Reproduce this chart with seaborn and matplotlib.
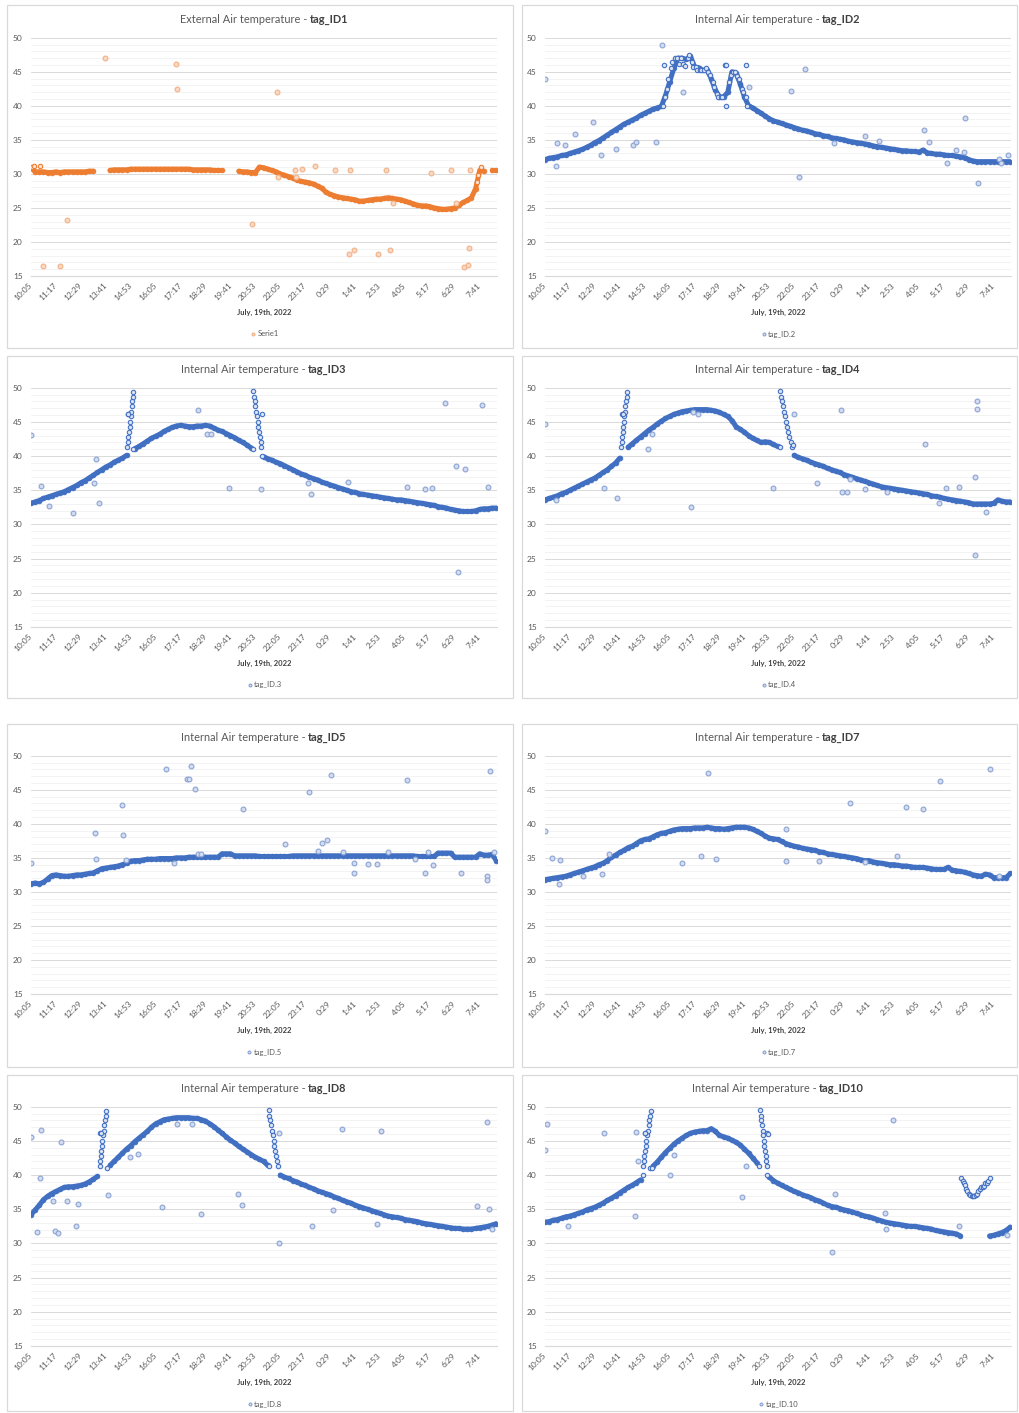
import numpy as np
import pandas as pd
import matplotlib
matplotlib.use("Agg")
import matplotlib.pyplot as plt
from matplotlib.patches import Rectangle
import seaborn as sns

nan = float("nan")

# ---------------------------------------------------------------- time axis
# one reading every 12 minutes, minute 0 = 10:05 on July 19th
STEP_MIN = 12
TICK_LABELS = ["10:05", "11:17", "12:29", "13:41", "14:53", "16:05", "17:17",
               "18:29", "19:41", "20:53", "22:05", "23:17", "0:29", "1:41",
               "2:53", "4:05", "5:17", "6:29", "7:41"]
TICK_MINUTES = [0, 72, 144, 216, 288, 360, 432, 504, 576, 648, 720, 792,
                864, 936, 1008, 1080, 1152, 1224, 1296]

# Each sensor: regular readings (TEMP), dense bursts such as probe spikes
# (DETAIL, as (minute, degC)) and isolated stray readings (STRAY).

# ---------------------------------------------------------------- tag_ID1 (external)
ID1_TEMP = [
    30.9, 30.3, 30.3, 30.3, 30.2, 30.2, 30.3, 30.2, 30.3, 30.3, 30.3, 30.3,
    30.3, 30.3, 30.4, 30.4, nan, nan, nan, 30.5, 30.6, 30.6, 30.6, 30.6,
    30.7, 30.7, 30.7, 30.7, 30.7, 30.7, 30.7, 30.7, 30.7, 30.7, 30.7, 30.7,
    30.7, 30.7, 30.7, 30.6, 30.6, 30.6, 30.6, 30.6, 30.5, 30.5, 30.5, nan,
    nan, nan, 30.4, 30.3, 30.3, 30.2, 30.2, 31.0, 30.9, 30.7, 30.5, 30.3,
    30.0, 29.8, 29.6, 29.4, 29.1, 28.9, 28.8, 28.7, 28.5, 28.2, 27.9, 27.3,
    27.0, 26.8, 26.6, 26.5, 26.4, 26.3, 26.2, 26.0, 26.0, 26.1, 26.2, 26.3,
    26.3, 26.4, 26.5, 26.4, 26.3, 26.2, 26.0, 25.8, 25.6, 25.4, 25.3, 25.3,
    25.2, 25.0, 24.9, 24.8, 24.8, 24.9, 25.0, 25.4, 25.8, 26.1, 26.5, 27.8,
    30.5, 30.4, nan, 30.5, 30.5,
]
ID1_DETAIL = [(4, 31.0), (8, 31.1), (27, 31.1), (1288, 28.8), (1291, 29.8), (1300, 31.0)]
ID1_STRAY = [
    (35, 16.5), (83, 16.5), (104, 23.2), (215, 47.0), (419, 46.1), (423, 42.5),
    (639, 22.7), (711, 42.0), (714, 29.6), (763, 30.5), (765, 29.6), (782, 30.7),
    (819, 31.1), (878, 30.5), (918, 18.3), (920, 30.5), (934, 18.8), (1003, 18.3),
    (1025, 30.6), (1037, 18.8), (1046, 25.7), (1155, 30.2), (1213, 30.6), (1229, 25.7),
    (1251, 16.3), (1262, 16.6), (1266, 19.1), (1267, 30.6),
]

# ---------------------------------------------------------------- tag_ID2
ID2_TEMP = [
    32.1, 32.3, 32.4, 32.5, 32.7, 32.8, 33.0, 33.2, 33.4, 33.6, 33.9, 34.2,
    34.6, 34.9, 35.3, 35.7, 36.1, 36.5, 36.9, 37.3, 37.6, 37.9, 38.2, 38.6,
    38.9, 39.2, 39.5, 39.7, 39.9, 41.5, 43.5, 45.5, 47.0, 47.0, 46.8, 47.3,
    45.7, 45.6, 45.2, 45.3, 44.0, 42.3, 41.3, 41.3, 42.0, 45.0, 44.8, 43.2,
    41.3, 40.0, 39.7, 39.3, 38.9, 38.5, 38.1, 37.8, 37.6, 37.4, 37.2, 37.0,
    36.8, 36.6, 36.4, 36.3, 36.1, 35.9, 35.8, 35.6, 35.5, 35.3, 35.2, 35.1,
    35.0, 34.8, 34.7, 34.6, 34.5, 34.4, 34.3, 34.1, 34.0, 33.9, 33.8, 33.7,
    33.6, 33.5, 33.4, 33.4, 33.3, 33.3, 33.2, 33.5, 33.1, 33.0, 32.9, 32.9,
    32.8, 32.7, 32.7, 32.6, 32.5, 32.4, 32.1, 31.9, 31.8, 31.8, 31.8, 31.8,
    31.8, 31.8, 31.8, 31.8, 31.8,
]
ID2_DETAIL = [
    (342, 40.0), (344, 46.0), (346, 41.3), (352, 42.5), (356, 44.0), (364, 45.5),
    (368, 46.5), (376, 47.0), (380, 47.0), (388, 46.2), (392, 47.0), (400, 46.2),
    (404, 45.8), (412, 47.0), (416, 47.5), (424, 46.5), (428, 45.7), (436, 45.7),
    (440, 45.2), (448, 45.2), (452, 45.2), (460, 45.2), (464, 45.5), (472, 45.0),
    (476, 44.5), (484, 43.5), (488, 42.8), (496, 41.8), (500, 41.3), (508, 41.3),
    (512, 41.3), (519, 46.0), (522, 46.0), (524, 40.0), (532, 43.5), (536, 44.5),
    (544, 45.0), (548, 45.0), (556, 44.4), (560, 44.0), (568, 42.5), (572, 42.0),
    (580, 41.3), (582, 46.0), (584, 40.0),
]
ID2_STRAY = [
    (0, 43.9), (31, 31.2), (34, 34.5), (58, 34.2), (87, 35.9), (138, 37.6),
    (163, 32.7), (204, 33.7), (253, 34.2), (263, 34.7), (321, 34.7), (337, 48.9),
    (400, 42.0), (589, 42.8), (710, 42.1), (733, 29.6), (750, 45.4), (835, 34.5),
    (923, 35.6), (966, 34.9), (1096, 36.5), (1110, 34.7), (1161, 31.6), (1186, 33.5),
    (1209, 33.2), (1212, 38.2), (1252, 28.6), (1310, 32.2), (1316, 31.6), (1337, 32.8),
]

# ---------------------------------------------------------------- tag_ID3
ID3_TEMP = [
    33.1, 33.3, 33.5, 33.8, 34.0, 34.2, 34.4, 34.6, 34.8, 35.1, 35.4, 35.7,
    36.1, 36.4, 36.8, 37.2, 37.6, 38.0, 38.4, 38.7, 39.1, 39.4, 39.7, 40.1,
    nan, 41.1, 41.4, 41.8, 42.2, 42.6, 42.9, 43.2, 43.6, 43.9, 44.2, 44.4,
    44.5, 44.4, 44.3, 44.3, 44.4, 44.4, 44.5, 44.4, 44.1, 43.8, 43.6, 43.3,
    43.0, 42.7, 42.3, 42.0, 41.6, 41.2, nan, nan, 39.9, 39.6, 39.4, 39.1,
    38.9, 38.6, 38.3, 38.0, 37.7, 37.4, 37.2, 36.9, 36.7, 36.5, 36.2, 36.0,
    35.8, 35.6, 35.4, 35.2, 35.0, 34.8, 34.7, 34.5, 34.4, 34.3, 34.2, 34.1,
    34.0, 33.9, 33.8, 33.7, 33.6, 33.6, 33.5, 33.4, 33.3, 33.2, 33.1, 33.0,
    32.9, 32.8, 32.6, 32.5, 32.4, 32.2, 32.1, 32.0, 31.9, 31.9, 31.9, 32.0,
    32.2, 32.3, 32.3, 32.4, 32.4,
]
ID3_DETAIL = [
    (278, 41.3), (280, 42.0), (281, 42.8), (283, 43.5), (285, 44.3), (286, 45.0),
    (288, 45.8), (289, 46.5), (291, 47.3), (292, 48.0), (294, 48.7), (296, 49.4),
    (279, 46.1), (281, 46.1), (296, 41.0),
    (642, 49.5), (644, 48.7), (646, 48.0), (648, 47.3), (650, 46.5), (652, 45.8),
    (655, 45.0), (657, 44.3), (659, 43.5), (661, 42.8), (663, 42.0), (665, 41.3),
    (667, 46.1), (642, 41.0), (668, 40.0),
]
ID3_STRAY = [
    (0, 43.1), (29, 35.6), (53, 32.7), (121, 31.7), (183, 36.0), (188, 39.6),
    (195, 33.2), (481, 46.7), (507, 43.2), (520, 43.2), (572, 35.3), (664, 35.2),
    (801, 36.0), (810, 34.5), (916, 36.2), (1086, 35.5), (1138, 35.2), (1159, 35.4),
    (1196, 47.8), (1227, 38.5), (1234, 23.0), (1253, 38.1), (1303, 47.4), (1321, 35.5),
]

# ---------------------------------------------------------------- tag_ID4
ID4_TEMP = [
    33.6, 33.8, 34.0, 34.2, 34.5, 34.7, 35.0, 35.3, 35.6, 35.9, 36.2, 36.5,
    36.8, 37.2, 37.6, 38.0, 38.5, 39.0, 39.7, nan, 41.3, 41.8, 42.3, 42.8,
    43.3, 43.8, 44.2, 44.7, 45.1, 45.5, 45.8, 46.1, 46.3, 46.5, 46.6, 46.7,
    46.8, 46.8, 46.8, 46.8, 46.7, 46.6, 46.4, 46.1, 45.8, 45.2, 44.3, 43.9,
    43.5, 43.0, 42.6, 42.3, 42.0, 42.1, 42.0, 41.7, 41.4, nan, nan, nan,
    40.1, 39.8, 39.6, 39.4, 39.1, 38.9, 38.7, 38.5, 38.2, 38.0, 37.8, 37.6,
    37.3, 37.1, 36.9, 36.7, 36.5, 36.3, 36.1, 35.9, 35.7, 35.5, 35.4, 35.3,
    35.2, 35.1, 35.0, 34.9, 34.8, 34.7, 34.6, 34.5, 34.4, 34.2, 34.1, 34.0,
    33.8, 33.7, 33.6, 33.5, 33.4, 33.3, 33.2, 33.0, 33.0, 33.0, 33.0, 33.0,
    33.1, 33.6, 33.4, 33.3, 33.3,
]
ID4_DETAIL = [
    (219, 41.3), (221, 42.0), (222, 42.8), (224, 43.5), (225, 44.3), (227, 45.0),
    (229, 45.8), (230, 46.5), (232, 47.3), (234, 48.0), (236, 48.7), (238, 49.4),
    (222, 46.1), (224, 46.1),
    (678, 49.5), (681, 48.7), (684, 48.0), (687, 47.3), (690, 46.5), (694, 45.8),
    (697, 45.0), (700, 44.3), (703, 43.5), (706, 42.8), (710, 42.0), (714, 41.3),
    (716, 41.6), (678, 41.3),
]
ID4_STRAY = [
    (0, 44.7), (32, 33.6), (170, 35.4), (208, 33.9), (298, 41.0), (308, 43.3),
    (423, 32.5), (428, 46.4), (442, 46.2), (659, 35.3), (719, 46.2), (785, 36.1),
    (856, 46.8), (858, 34.7), (872, 34.7), (880, 36.6), (923, 35.2), (988, 34.8),
    (1099, 41.8), (1137, 33.1), (1157, 35.3), (1197, 35.5), (1242, 37.0), (1242, 25.5),
    (1247, 48.0), (1248, 46.9), (1274, 31.8),
]

# ---------------------------------------------------------------- tag_ID5
ID5_TEMP = [
    31.2, 31.3, 31.2, 31.4, 31.9, 32.4, 32.5, 32.4, 32.3, 32.3, 32.4, 32.5,
    32.5, 32.6, 32.7, 32.8, 33.1, 33.4, 33.5, 33.6, 33.7, 33.8, 34.0, 34.2,
    34.5, 34.6, 34.6, 34.7, 34.8, 34.8, 34.8, 34.9, 34.9, 34.9, 34.9, 35.0,
    35.0, 35.0, 35.1, 35.1, 35.1, 35.1, 35.1, 35.1, 35.1, 35.1, 35.6, 35.6,
    35.6, 35.3, 35.3, 35.3, 35.3, 35.3, 35.3, 35.2, 35.2, 35.2, 35.2, 35.2,
    35.2, 35.2, 35.2, 35.3, 35.3, 35.3, 35.3, 35.3, 35.3, 35.3, 35.3, 35.3,
    35.3, 35.3, 35.3, 35.3, 35.3, 35.3, 35.3, 35.3, 35.3, 35.3, 35.3, 35.3,
    35.3, 35.3, 35.3, 35.3, 35.3, 35.3, 35.3, 35.3, 35.3, 35.2, 35.2, 35.2,
    35.2, 35.2, 35.7, 35.7, 35.7, 35.7, 35.1, 35.1, 35.1, 35.1, 35.1, 35.1,
    35.6, 35.4, 35.4, 35.5, 34.6,
]
ID5_DETAIL = []
ID5_STRAY = [
    (0, 34.3), (186, 38.7), (188, 34.8), (262, 42.8), (267, 38.4), (274, 34.7),
    (390, 48.0), (412, 34.3), (450, 46.6), (457, 46.6), (462, 48.5), (474, 45.1),
    (482, 35.5), (491, 35.5), (612, 42.1), (734, 37.0), (802, 44.7), (828, 36.0),
    (841, 37.2), (854, 37.6), (866, 47.2), (902, 35.8), (933, 34.2), (933, 32.7),
    (974, 34.1), (1000, 34.1), (1030, 35.8), (1086, 46.4), (1109, 34.8), (1139, 32.8),
    (1147, 35.9), (1162, 34.0), (1241, 32.7), (1317, 32.4), (1317, 31.7), (1327, 47.8),
    (1336, 35.8),
]

# ---------------------------------------------------------------- tag_ID7
ID7_TEMP = [
    31.8, 31.9, 32.0, 32.1, 32.2, 32.3, 32.5, 32.7, 32.9, 33.1, 33.3, 33.5,
    33.7, 34.0, 34.2, 34.6, 35.1, 35.4, 35.8, 36.1, 36.5, 36.7, 37.1, 37.5,
    37.7, 37.8, 38.1, 38.4, 38.6, 38.7, 38.9, 39.1, 39.2, 39.3, 39.3, 39.3,
    39.4, 39.4, 39.4, 39.5, 39.4, 39.3, 39.3, 39.2, 39.3, 39.4, 39.5, 39.5,
    39.5, 39.4, 39.2, 38.9, 38.6, 38.2, 37.9, 37.8, 37.7, 37.4, 37.1, 36.9,
    36.7, 36.6, 36.4, 36.3, 36.2, 36.1, 35.9, 35.8, 35.6, 35.5, 35.4, 35.3,
    35.2, 35.1, 35.0, 34.9, 34.7, 34.6, 34.6, 34.4, 34.3, 34.2, 34.1, 34.0,
    34.0, 33.9, 33.8, 33.8, 33.7, 33.6, 33.6, 33.6, 33.5, 33.4, 33.3, 33.3,
    33.3, 33.6, 33.2, 33.1, 33.0, 32.9, 32.7, 32.5, 32.4, 32.3, 32.6, 32.5,
    32.1, 32.1, 32.1, 32.1, 32.7,
]
ID7_DETAIL = []
ID7_STRAY = [
    (0, 39.0), (19, 35.0), (39, 31.2), (43, 34.7), (109, 32.4), (166, 32.6),
    (185, 35.6), (395, 34.3), (450, 35.3), (470, 47.4), (494, 34.9), (697, 39.2),
    (696, 34.5), (790, 34.5), (880, 43.0), (925, 34.4), (1018, 35.3), (1042, 42.5),
    (1091, 42.1), (1140, 46.3), (1284, 48.0), (1310, 32.4),
]

# ---------------------------------------------------------------- tag_ID8
ID8_TEMP = [
    34.2, 34.9, 35.6, 36.4, 36.9, 37.3, 37.6, 37.9, 38.2, 38.3, 38.3, 38.4,
    38.5, 38.7, 39.0, 39.4, 39.8, nan, nan, 41.4, 42.0, 42.6, 43.2, 43.8,
    44.3, 44.9, 45.4, 45.9, 46.4, 47.0, 47.5, 47.8, 48.1, 48.2, 48.3, 48.4,
    48.4, 48.4, 48.4, 48.3, 48.3, 48.1, 47.9, 47.5, 47.1, 46.6, 46.1, 45.6,
    45.1, 44.7, 44.2, 43.8, 43.4, 43.0, 42.6, 42.3, 42.0, 41.4, nan, nan,
    40.0, 39.7, 39.5, 39.2, 39.0, 38.7, 38.5, 38.2, 38.0, 37.7, 37.5, 37.3,
    37.1, 36.8, 36.6, 36.3, 36.1, 35.9, 35.6, 35.4, 35.2, 35.0, 34.8, 34.6,
    34.4, 34.2, 34.0, 33.9, 33.8, 33.7, 33.5, 33.4, 33.3, 33.2, 33.0, 32.9,
    32.8, 32.7, 32.6, 32.5, 32.4, 32.3, 32.2, 32.2, 32.1, 32.1, 32.1, 32.2,
    32.3, 32.4, 32.5, 32.7, 32.9,
]
ID8_DETAIL = [
    (198, 41.3), (200, 42.0), (201, 42.8), (203, 43.5), (205, 44.3), (206, 45.0),
    (208, 45.8), (210, 46.5), (212, 47.3), (214, 48.0), (216, 48.7), (218, 49.4),
    (200, 46.1), (203, 46.1), (219, 41.0),
    (686, 49.5), (688, 48.7), (691, 48.0), (693, 47.3), (696, 46.5), (698, 45.8),
    (701, 45.0), (703, 44.3), (706, 43.5), (708, 42.8), (711, 42.0), (713, 41.3),
    (686, 41.3),
]
ID8_STRAY = [
    (0, 45.6), (17, 31.7), (25, 39.5), (30, 46.6), (63, 36.2), (70, 31.8),
    (77, 31.6), (87, 44.8), (104, 36.2), (130, 32.6), (136, 35.7), (221, 37.1),
    (287, 42.6), (310, 43.1), (377, 35.4), (423, 47.5), (466, 47.4), (492, 34.3),
    (598, 37.3), (610, 35.6), (717, 30.0), (717, 46.1), (812, 32.5), (873, 34.9),
    (899, 46.8), (998, 32.8), (1011, 46.5), (1287, 35.5), (1317, 47.8), (1322, 35.1),
    (1332, 32.1),
]

# ---------------------------------------------------------------- tag_ID10
ID10_TEMP = [
    33.1, 33.2, 33.4, 33.5, 33.7, 33.9, 34.0, 34.2, 34.4, 34.6, 34.9, 35.1,
    35.3, 35.6, 35.9, 36.3, 36.6, 37.0, 37.4, 37.8, 38.2, 38.5, 38.9, 39.3,
    nan, nan, 41.3, 41.9, 42.6, 43.3, 43.9, 44.5, 45.0, 45.4, 45.8, 46.1,
    46.3, 46.4, 46.5, 46.5, 46.8, 46.4, 45.8, 45.6, 45.4, 45.1, 44.8, 44.4,
    43.8, 43.2, 42.5, 41.8, nan, nan, 39.7, 39.2, 38.8, 38.5, 38.2, 37.9,
    37.6, 37.4, 37.1, 36.9, 36.7, 36.4, 36.2, 35.9, 35.6, 35.4, 35.3, 35.1,
    34.9, 34.8, 34.6, 34.4, 34.2, 34.0, 33.9, 33.7, 33.5, 33.3, 33.1, 33.0,
    32.9, 32.8, 32.7, 32.6, 32.5, 32.5, 32.4, 32.3, 32.2, 32.1, 31.9, 31.8,
    31.7, 31.6, 31.5, 31.4, 31.1, nan, nan, nan, nan, nan, nan, 31.1,
    31.2, 31.4, 31.6, 31.9, 32.4,
]
ID10_DETAIL = [
    (283, 41.3), (285, 42.0), (287, 42.8), (289, 43.5), (291, 44.3), (293, 45.0),
    (295, 45.8), (297, 46.5), (299, 47.3), (301, 48.0), (303, 48.7), (305, 49.4),
    (288, 46.1), (290, 46.1), (282, 40.0), (304, 41.0), (308, 41.1),
    (622, 49.5), (624, 48.7), (625, 48.0), (627, 47.3), (629, 46.5), (630, 45.8),
    (632, 45.0), (634, 44.3), (636, 43.5), (637, 42.8), (639, 42.0), (641, 41.3),
    (641, 46.1), (643, 46.0), (618, 41.3), (642, 40.0),
    (1203, 39.5), (1206, 39.2), (1209, 38.9), (1212, 38.5), (1216, 38.0), (1220, 37.6),
    (1224, 37.3), (1228, 37.1), (1232, 37.0), (1236, 36.9), (1240, 37.0), (1244, 37.1),
    (1248, 37.3), (1252, 37.6), (1256, 38.0), (1260, 38.2), (1264, 38.2), (1268, 38.4),
    (1272, 38.8), (1276, 38.9), (1280, 39.2), (1284, 39.5),
]
ID10_STRAY = [
    (0, 43.6), (7, 47.5), (65, 32.6), (171, 46.1), (259, 34.0), (262, 46.3),
    (270, 42.0), (360, 40.0), (373, 43.0), (569, 36.8), (582, 41.3), (829, 28.7),
    (839, 37.3), (981, 34.4), (984, 32.1), (1005, 48.0), (1196, 32.6), (1335, 31.2),
]

# ---------------------------------------------------------------- styling
sns.set_style("white")
plt.rcParams["font.family"] = ["Lato", "DejaVu Sans"]

TEXT_GREY = "#595959"
# (band colour, ring edge, ring fill, stray edge, stray fill)
BLUE = ("#4170C2", "#4472C4", "#DCE4F4", "#8CA3D3", "#D3DDF1")
ORANGE = ("#ED7D31", "#ED7D31", "#FBE2D2", "#F2B187", "#F9D9C3")

W, H = 1019, 1413
ROW_FRAME = [(5, 348), (356, 698), (724, 1067), (1075, 1411)]
ROW_PLOT = [(37.7, 276), (387.7, 627), (755.7, 994), (1106.7, 1346)]
COL_FRAME = [(7, 513), (522, 1017)]
COL_PLOT = [(31, 497), (545, 1011)]

PANELS = [
    ("External Air temperature -", "tag_ID1", "Serie1", ORANGE, ID1_TEMP, ID1_DETAIL, ID1_STRAY),
    ("Internal Air temperature -", "tag_ID2", "tag_ID.2", BLUE, ID2_TEMP, ID2_DETAIL, ID2_STRAY),
    ("Internal Air temperature -", "tag_ID3", "tag_ID.3", BLUE, ID3_TEMP, ID3_DETAIL, ID3_STRAY),
    ("Internal Air temperature -", "tag_ID4", "tag_ID.4", BLUE, ID4_TEMP, ID4_DETAIL, ID4_STRAY),
    ("Internal Air temperature -", "tag_ID5", "tag_ID.5", BLUE, ID5_TEMP, ID5_DETAIL, ID5_STRAY),
    ("Internal Air temperature -", "tag_ID7", "tag_ID.7", BLUE, ID7_TEMP, ID7_DETAIL, ID7_STRAY),
    ("Internal Air temperature -", "tag_ID8", "tag_ID.8", BLUE, ID8_TEMP, ID8_DETAIL, ID8_STRAY),
    ("Internal Air temperature -", "tag_ID10", "tag_ID.10", BLUE, ID10_TEMP, ID10_DETAIL, ID10_STRAY),
]


def fig_x(px):
    return px / W


def fig_y(py):
    return 1 - py / H


def points_frame(pairs):
    return pd.DataFrame({"minute": [float(m) for m, _ in pairs],
                         "temp": [float(v) for _, v in pairs]})


fig = plt.figure(figsize=(W / 100, H / 100), dpi=100)
fig.patch.set_facecolor("white")

titles = []
for k, (prefix, tag, legend_label, colours, temps, detail, stray) in enumerate(PANELS):
    band, ring_edge, ring_face, stray_edge, stray_face = colours
    row, col = divmod(k, 2)
    fx0, fx1 = COL_FRAME[col]
    fy0, fy1 = ROW_FRAME[row]
    px0, px1 = COL_PLOT[col]
    py0, py1 = ROW_PLOT[row]
    cx = (px0 + px1) / 2

    # chart frame
    fig.add_artist(Rectangle((fig_x(fx0), fig_y(fy1)), (fx1 - fx0) / W, (fy1 - fy0) / H,
                             transform=fig.transFigure, fill=False,
                             edgecolor="#D9D9D9", linewidth=0.9))

    ax = fig.add_axes([fig_x(px0), fig_y(py1), (px1 - px0) / W, (py1 - py0) / H])

    # regular readings: dense trace, drawn per unbroken run of readings
    series = pd.DataFrame({"minute": np.arange(len(temps), dtype=float) * STEP_MIN,
                           "temp": np.array(temps, dtype=float)})
    run_id = series["temp"].isna().cumsum()
    for _, run in series.dropna().groupby(run_id[series["temp"].notna()]):
        sns.lineplot(data=run, x="minute", y="temp", ax=ax, color=band,
                     linewidth=3.6, estimator=None, sort=False,
                     solid_capstyle="round", zorder=3)
    sns.scatterplot(data=series.dropna(), x="minute", y="temp", ax=ax,
                    legend=False, color=band, edgecolor=band, facecolor=band,
                    linewidth=0.5, s=12, zorder=4)

    # dense bursts (probe spikes etc.)
    if detail:
        sns.scatterplot(data=points_frame(detail), x="minute", y="temp", ax=ax,
                        legend=False, color=ring_edge, facecolor=ring_face,
                        edgecolor=ring_edge, linewidth=0.8, s=10, zorder=5)

    # isolated stray readings
    sns.scatterplot(data=points_frame(stray), x="minute", y="temp", ax=ax,
                    legend=False, color=stray_edge, facecolor=stray_face,
                    edgecolor=stray_edge, linewidth=0.8, s=12, zorder=5,
                    label=legend_label)

    ax.set_xlim(0, 1346)
    ax.set_ylim(15, 50)
    ax.set_yticks(range(15, 51, 5))
    ax.set_yticks(range(15, 51), minor=True)
    ax.set_xticks(TICK_MINUTES)
    ax.set_xticklabels(TICK_LABELS, rotation=45, ha="right", va="center",
                       rotation_mode="anchor")
    ax.tick_params(axis="both", which="both", length=0, labelsize=6,
                   labelcolor=TEXT_GREY)
    ax.tick_params(axis="y", pad=6)
    ax.tick_params(axis="x", pad=6)
    ax.grid(False)
    ax.grid(which="major", axis="y", color="#D9D9D9", linewidth=0.7)
    ax.grid(which="minor", axis="y", color="#EFEFEF", linewidth=0.5)
    ax.set_axisbelow(True)
    for side in ("top", "right", "left"):
        ax.spines[side].set_visible(False)
    ax.spines["bottom"].set_color("#D9D9D9")
    ax.spines["bottom"].set_linewidth(0.8)
    ax.set_xlabel("")
    ax.set_ylabel("")

    fig.text(fig_x(cx), fig_y(py1 + 36), "July, 19th, 2022", ha="center",
             va="center", fontsize=5.5, fontweight="bold", color="#404040")

    leg = ax.legend(loc="center", bbox_to_anchor=(fig_x(cx), fig_y(py1 + 58)),
                    bbox_transform=fig.transFigure, frameon=False, fontsize=5.5,
                    handletextpad=0.1, markerscale=0.6, handlelength=1.0,
                    borderpad=0)
    for t in leg.get_texts():
        t.set_color(TEXT_GREY)

    ty = fig_y(py0 - 18)
    t1 = fig.text(0, ty, prefix, ha="left", va="center", fontsize=8,
                  color=TEXT_GREY)
    t2 = fig.text(0, ty, tag, ha="left", va="center", fontsize=8,
                  fontweight="bold", color="#404040")
    titles.append((t1, t2, cx))

# fit title size to the chart header width, then centre the two-part titles
fig.canvas.draw()
renderer = fig.canvas.get_renderer()
t1, t2, _ = titles[1]
w = t1.get_window_extent(renderer).width + t2.get_window_extent(renderer).width
size = 8 * 163 / w
for t1, t2, _ in titles:
    t1.set_fontsize(size)
    t2.set_fontsize(size)
fig.canvas.draw()
gap = 0.3 * size
for t1, t2, cx in titles:
    w1 = t1.get_window_extent(renderer).width
    w2 = t2.get_window_extent(renderer).width
    left = cx - (w1 + gap + w2) / 2
    t1.set_x(fig_x(left))
    t2.set_x(fig_x(left + w1 + gap))

fig.savefig("out.png", dpi=100)
